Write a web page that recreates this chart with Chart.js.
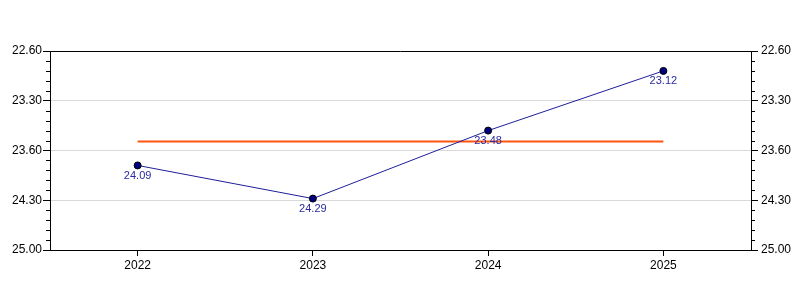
<!DOCTYPE html>
<html>
<head>
<meta charset="utf-8">
<script src="https://cdn.jsdelivr.net/npm/chart.js@4"></script>
<style>
html, body { margin: 0; padding: 0; background: #fff; }
</style>
</head>
<body>
<canvas id="chart" width="800" height="300"></canvas>
<script>
// times are stored in seconds, shown as mm.ss
const years = ['2022', '2023', '2024', '2025'];
const timesSec = [1449, 1469, 1428, 1392];      // 24.09, 24.29, 23.48, 23.12
const averageSec = 1434.5;
const yTickValues = [1380, 1410, 1440, 1470, 1500];
const yTickLabels = ['22.60', '23.30', '23.60', '24.30', '25.00'];
const yMin = 1380, yMax = 1500, minorStep = 6;

const FONT = 'Liberation Sans, Arial, sans-serif';

function fmtTime(sec) {
    const m = Math.floor(sec / 60);
    const s = Math.round(sec - m * 60);
    return m + '.' + String(s).padStart(2, '0');
}

function yAxis(position) {
    const left = position === 'left';
    return {
        type: 'linear', position: position, reverse: true, min: yMin, max: yMax,
        afterBuildTicks: s => { s.ticks = yTickValues.map(v => ({ value: v })); },
        ticks: {
            autoSkip: false, padding: left ? 1 : 3, color: '#000',
            font: { family: FONT, size: 12 },
            callback: (v, i) => yTickLabels[i]
        },
        grid: { color: left ? '#d9d9d9' : 'transparent', drawOnChartArea: left, tickColor: '#000', tickLength: 7 },
        border: { color: '#000', width: 1 },
        afterFit: s => { s.width = left ? 50 : 49; }
    };
}

const framePlugin = {
    id: 'frame',
    afterDraw(chart) {
        const { ctx, chartArea: a } = chart;
        ctx.save();
        ctx.strokeStyle = '#000';
        ctx.lineWidth = 1;
        ctx.beginPath();
        ctx.moveTo(a.left, a.top + 0.5);
        ctx.lineTo(a.right, a.top + 0.5);
        // minor ticks
        for (const id of ['y', 'y2']) {
            const sc = chart.scales[id];
            const x0 = id === 'y' ? a.left : a.right;
            const dir = id === 'y' ? -1 : 1;
            for (let v = yMin; v <= yMax; v += minorStep) {
                if (yTickValues.includes(v)) continue;
                const py = Math.round(sc.getPixelForValue(v)) + 0.5;
                ctx.moveTo(x0, py);
                ctx.lineTo(x0 + dir * 4, py);
            }
        }
        ctx.stroke();
        ctx.restore();
    }
};

const pointLabelPlugin = {
    id: 'pointLabels',
    afterDatasetsDraw(chart) {
        const { ctx } = chart;
        const meta = chart.getDatasetMeta(0);
        ctx.save();
        ctx.fillStyle = '#2a2aa0';
        ctx.font = '11px ' + FONT;
        ctx.textAlign = 'center';
        ctx.textBaseline = 'top';
        meta.data.forEach((pt, i) => {
            ctx.fillText(fmtTime(timesSec[i]), pt.x, pt.y + 5);
        });
        ctx.restore();
    }
};

new Chart(document.getElementById('chart').getContext('2d'), {
    type: 'line',
    data: {
        labels: years,
        datasets: [
            {
                label: 'Time', data: timesSec, yAxisID: 'y',
                borderColor: '#1e1e9a', borderWidth: 1, tension: 0,
                pointRadius: 3.5, pointBackgroundColor: '#000080', pointBorderColor: '#000', pointBorderWidth: 1,
                order: 1
            },
            {
                label: 'Average', data: years.map(() => averageSec), yAxisID: 'y',
                borderColor: '#ff5511', borderWidth: 2, pointRadius: 0, tension: 0,
                order: 2
            }
        ]
    },
    options: {
        responsive: false, animation: false,
        layout: { padding: { top: 51, left: 0, right: 0, bottom: 0 } },
        plugins: { legend: { display: false }, tooltip: { enabled: false } },
        scales: {
            x: {
                type: 'category', offset: true,
                ticks: { color: '#000', font: { family: FONT, size: 12 }, padding: 2 },
                grid: { drawOnChartArea: false, tickColor: '#000', tickLength: 6 },
                border: { color: '#000', width: 1 },
                afterFit: s => { s.height = 50; }
            },
            y: yAxis('left'),
            y2: yAxis('right')
        }
    },
    plugins: [framePlugin, pointLabelPlugin]
});
</script>
</body>
</html>
